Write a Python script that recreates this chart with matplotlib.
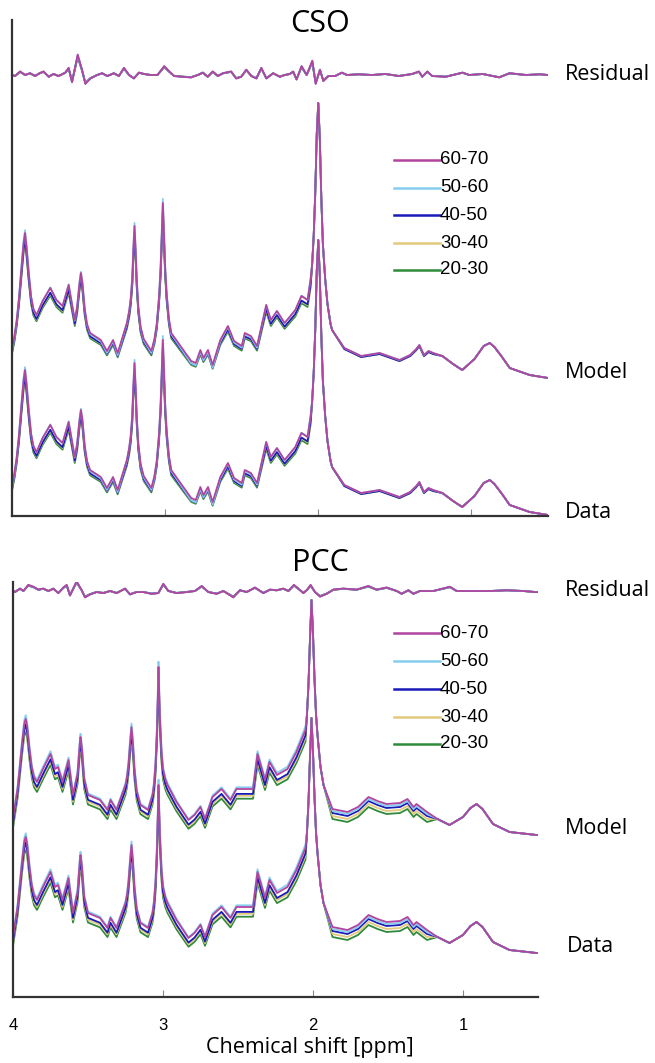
"""Stacked MRS spectra (Data / Model / Residual) per age group, CSO and PCC."""

import numpy as np
import matplotlib

matplotlib.use("Agg")
import matplotlib.pyplot as plt

W, H = 655, 1063

GROUPS = ["60-70", "50-60", "40-50", "30-40", "20-30"]
COLORS = ["#b0449e", "#86cdef", "#1a1ab8", "#e2c97c", "#2f8a3c"]

# signal, px above the axis floor (Data row), ppm descending
CSO_PPM = [4.00, 3.985, 3.97, 3.955, 3.94, 3.925, 3.915, 3.905, 3.89, 3.875, 3.86,
           3.84, 3.80, 3.75, 3.71, 3.67, 3.63, 3.59, 3.575, 3.56, 3.55, 3.54, 3.525,
           3.51, 3.49, 3.42, 3.38, 3.34, 3.31, 3.25, 3.235, 3.225, 3.215, 3.2075,
           3.20, 3.1925, 3.185, 3.175, 3.16, 3.14, 3.09, 3.07, 3.055, 3.04, 3.03,
           3.022, 3.015, 3.008, 3.00, 2.99, 2.975, 2.96, 2.90, 2.83, 2.80, 2.77,
           2.75, 2.72, 2.69, 2.64, 2.59, 2.55, 2.50, 2.48, 2.44, 2.40, 2.34, 2.31,
           2.27, 2.22, 2.15, 2.11, 2.07, 2.05, 2.04, 2.03, 2.02, 2.01, 2.00, 1.99,
           1.98, 1.97, 1.955, 1.94, 1.92, 1.91, 1.83, 1.72, 1.60, 1.47, 1.40, 1.36,
           1.34, 1.31, 1.28, 1.25, 1.19, 1.12, 1.06, 0.98, 0.92, 0.88, 0.85, 0.80,
           0.75, 0.62, 0.50]
CSO_SIGNAL = [30, 42, 58, 80, 108, 135, 146, 132, 105, 82, 70,
              64, 78, 91, 79, 73, 94, 59, 72, 95, 106, 96, 70,
              55, 46, 39, 28, 39, 26, 56, 68, 80, 100, 130,
              153, 128, 98, 72, 52, 40, 28, 40, 55, 82, 110,
              145, 176, 148, 112, 85, 60, 46, 33, 18, 16, 29,
              21, 29, 14, 39, 53, 38, 33, 46, 43, 33, 74, 59,
              68, 56, 69, 83, 79, 100, 115, 143, 185, 245, 276, 240,
              180, 135, 100, 75, 55, 49, 31, 23, 26, 19, 24, 30,
              34, 24, 28, 26, 23, 15, 9, 20, 33, 36, 32, 22,
              11, 4, 1]

CSO_RES_PPM = [4.00, 3.98, 3.947, 3.915, 3.882, 3.849, 3.82, 3.794, 3.76, 3.729, 3.696,
               3.652, 3.63, 3.608, 3.571, 3.543, 3.521, 3.488, 3.444, 3.411, 3.378,
               3.335, 3.302, 3.269, 3.236, 3.204, 3.171, 3.138, 3.094, 3.05, 3.006,
               2.973, 2.941, 2.886, 2.831, 2.787, 2.754, 2.722, 2.689, 2.656, 2.623,
               2.569, 2.536, 2.503, 2.47, 2.437, 2.404, 2.372, 2.339, 2.295, 2.251,
               2.219, 2.186, 2.164, 2.142, 2.109, 2.076, 2.039, 2.017, 1.989, 1.967,
               1.934, 1.89, 1.846, 1.813, 1.737, 1.649, 1.562, 1.474, 1.387, 1.343,
               1.321, 1.288, 1.256, 1.168, 1.058, 1.014, 0.927, 0.818, 0.752, 0.643,
               0.555, 0.50]
CSO_RES = [0, -1, 3.3, 0, 1.7, -1, 1.7, 3.3, -1.7, 1, -1,
           2.3, 6.7, -6.7, 19, 5, -8.3, -3.3, 0, 1.7, -1,
           1.7, -1, 6.7, 0, -3.3, 2.3, 1, 0, 0, 8.3,
           3.3, -1, -1.7, -2.3, 0, 2.3, -1.7, 3.3, -1, 1.7,
           3.3, -3.3, -1.7, 5, -1, -3.3, 6.7, -3.3, 1.7, -1.7,
           0, 1, 3.3, -4.3, 8.3, 0, 13.3, -8.3, 5, -5.7,
           -1, -1, 2.3, 0, 0.7, 0, 1, -1, 1, 3.3,
           -1.7, 3.3, -1, -1.7, 2.3, 0, 1, -2.3, 1.7, 0,
           0.7, 0]

PCC_PPM = [4.00, 3.99, 3.97, 3.955, 3.94, 3.925, 3.915, 3.905, 3.89, 3.875, 3.86,
           3.84, 3.80, 3.75, 3.72, 3.70, 3.67, 3.63, 3.60, 3.57, 3.555, 3.55, 3.54,
           3.525, 3.50, 3.42, 3.37, 3.35, 3.31, 3.25, 3.24, 3.23, 3.22, 3.21, 3.20,
           3.19, 3.175, 3.15, 3.10, 3.07, 3.06, 3.05, 3.04, 3.035, 3.03, 3.025,
           3.02, 3.01, 3.00, 2.985, 2.97, 2.91, 2.83, 2.79, 2.75, 2.72, 2.67, 2.61,
           2.55, 2.51, 2.45, 2.40, 2.37, 2.32, 2.29, 2.24, 2.17, 2.11, 2.05, 2.04,
           2.03, 2.02, 2.01, 2.00, 1.99, 1.98, 1.97, 1.95, 1.93, 1.87, 1.77, 1.70,
           1.63, 1.57, 1.51, 1.42, 1.37, 1.33, 1.31, 1.24, 1.17, 1.09, 1.00, 0.95,
           0.91, 0.87, 0.80, 0.69, 0.51, 0.50]
PCC_SIGNAL = [60, 70, 90, 112, 135, 155, 160, 152, 130, 112, 102,
              97, 110, 125, 110, 112, 97, 119, 84, 105, 135, 142, 130,
              100, 84, 79, 69, 79, 69, 94, 102, 115, 135, 152, 135,
              110, 88, 74, 69, 84, 95, 115, 150, 180, 212, 185,
              160, 128, 110, 100, 94, 77, 59, 64, 72, 60, 82, 90,
              79, 90, 90, 90, 125, 99, 117, 104, 110, 127, 149, 165,
              195, 240, 279, 245, 200, 165, 144, 112, 94, 70, 67, 72,
              82, 78, 75, 76, 80, 72, 75, 67, 60, 54, 62, 71,
              75, 70, 55, 47, 44, 44]

PCC_RES_PPM = [4.00, 3.987, 3.953, 3.931, 3.898, 3.864, 3.831, 3.798, 3.764, 3.731,
               3.698, 3.664, 3.642, 3.62, 3.576, 3.542, 3.52, 3.487, 3.442, 3.398,
               3.353, 3.309, 3.253, 3.22, 3.176, 3.131, 3.076, 3.031, 2.998, 2.964,
               2.909, 2.842, 2.787, 2.742, 2.698, 2.642, 2.598, 2.531, 2.487, 2.442,
               2.387, 2.331, 2.287, 2.242, 2.198, 2.164, 2.127, 2.098, 2.064, 2.038,
               2.016, 1.987, 1.953, 1.909, 1.864, 1.798, 1.709, 1.631, 1.576, 1.509,
               1.442, 1.409, 1.364, 1.331, 1.287, 1.198, 1.087, 1.042, 0.931, 0.82,
               0.709, 0.598, 0.52, 0.50]
PCC_RES = [0, -1, 2.3, 0, 5.7, 4, 1.3, 2.3, 0, 2.3,
           -2, 3.3, 5.7, -4.3, 9, 0.7, -6, -3.3, -1, -2,
           0, -2, 2.3, -3.3, -1, -1, -2.7, -2, 6.7, 0,
           -2, -1, 0, 4.7, -1, -2.7, 0, -6, 0.7, -1,
           3.3, -2, 1.3, 0.7, 2.3, 0, 5.7, 2.3, -2, 1.3,
           5.7, -1, -5.3, -2.7, 1.3, 2.3, 1.3, 4.7, 1.3, 3.3,
           0, -2.7, 0.7, -2.7, 0, 0, 4, 0, 0, 0,
           0.7, 0, -1, -1]

# per-group scaling of the metabolite region (>= 2.05 ppm), order as GROUPS
CSO_GAIN = [1.00, 1.04, 0.97, 0.96, 0.95]
CSO_SHIFT = [0, -3, -2, -2, -3]
PCC_GAIN = [1.00, 1.03, 0.99, 0.98, 0.97]
PCC_SHIFT = [0, -1, -4, -5, -7]
# per-group shift of the macromolecule bump region (1.2 - 1.9 ppm)
CSO_MM_SHIFT = [0, 0, -1, -1, -1]
PCC_MM_SHIFT = [0, -2, -4, -7, -10]


def group_curve(ppm, sig, gain, shift, mm_shift):
    ppm = np.asarray(ppm)
    out = np.asarray(sig, dtype=float).copy()
    metab = ppm >= 2.05
    out[metab] = out[metab] * gain + shift
    mm = (ppm > 1.2) & (ppm < 1.9)
    out[mm] = out[mm] + mm_shift
    return out


def draw_panel(ax, ppm, sig, res_ppm, res, gains, shifts, mm_shifts,
               model_off, res_base, ymax):
    for i in reversed(range(len(GROUPS))):
        y = group_curve(ppm, sig, gains[i], shifts[i], mm_shifts[i])
        kw = dict(color=COLORS[i], lw=1.3, solid_joinstyle="round")
        ax.plot(ppm, y, **kw)
        ax.plot(ppm, y + model_off, **kw)
        ax.plot(res_ppm, np.asarray(res) * (1 + 0.04 * (2 - i)) + res_base, **kw)
    ax.set_xlim(4.0, 0.5)
    ax.set_ylim(0, ymax)
    ax.set_xticks([4, 3, 2, 1])
    ax.set_yticks([])
    for s in ("top", "right"):
        ax.spines[s].set_visible(False)
    for s in ("left", "bottom"):
        ax.spines[s].set_color("#333333")
        ax.spines[s].set_linewidth(1.6)
    ax.tick_params(axis="x", direction="in", length=5, color="#888888",
                   labelsize=12, pad=15)


def px(x, y):
    return x / W, 1 - y / H


fig = plt.figure(figsize=(W / 100, H / 100), dpi=100)

ax1 = fig.add_axes([12 / W, 1 - 516 / H, 536 / W, 496 / H])
draw_panel(ax1, CSO_PPM, CSO_SIGNAL, CSO_RES_PPM, CSO_RES,
           CSO_GAIN, CSO_SHIFT, CSO_MM_SHIFT, 137, 441, 496)
ax1.tick_params(axis="x", labelbottom=False)

ax2 = fig.add_axes([13 / W, 1 - 997 / H, 525 / W, 415 / H])
draw_panel(ax2, PCC_PPM, PCC_SIGNAL, PCC_RES_PPM, PCC_RES,
           PCC_GAIN, PCC_SHIFT, PCC_MM_SHIFT, 118, 406, 415)
for lab in ax2.get_xticklabels():
    lab.set_fontfamily("Liberation Sans")

label_font = "Open Sans"
fig.text(*px(320, 24), "CSO", ha="center", va="center", fontsize=22, family=label_font)
fig.text(*px(320, 563), "PCC", ha="center", va="center", fontsize=22, family=label_font)
for (x, y, t) in [(565, 75, "Residual"), (565, 372, "Model"), (565, 512, "Data"),
                  (565, 590, "Residual"), (565, 829, "Model"), (567, 947, "Data")]:
    fig.text(*px(x, y), t, ha="left", va="center", fontsize=15.5, family=label_font)
fig.text(*px(310, 1048), "Chemical shift [ppm]", ha="center", va="center",
         fontsize=15.5, family=label_font)

# hand-placed legends
for rows in ([160, 188, 215, 243, 270], [633, 661, 689, 717, 744]):
    for i, yy in enumerate(rows):
        x0, y0 = px(394, yy)
        x1, _ = px(440, yy)
        fig.add_artist(plt.Line2D([x0, x1], [y0, y0], color=COLORS[i], lw=1.8,
                                  transform=fig.transFigure))
        fig.text(x1, y0, GROUPS[i], ha="left", va="center", fontsize=13.5,
                 family="Liberation Sans")

fig.savefig("out.png", dpi=100)
